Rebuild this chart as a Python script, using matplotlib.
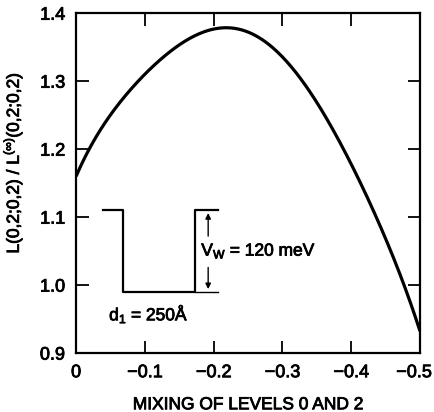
import matplotlib
matplotlib.use("Agg")
import matplotlib.pyplot as plt
import matplotlib.patheffects as pe
from matplotlib.transforms import ScaledTranslation
import numpy as np

plt.rcParams['font.family'] = ['Liberation Sans', 'DejaVu Sans']

# curve
mixing = [0.0, -0.020, -0.049, -0.078, -0.107, -0.136, -0.163, -0.19, -0.214,
          -0.25, -0.277, -0.325, -0.373, -0.397, -0.426, -0.451, -0.48, -0.5]
ratio = [1.158, 1.206, 1.248, 1.285, 1.316, 1.343, 1.364, 1.374, 1.378,
         1.372, 1.358, 1.302, 1.231, 1.184, 1.125, 1.066, 0.988, 0.934]

# square well sketch (in data units)
well_x = [-0.039, -0.068, -0.068, -0.173, -0.173, -0.206]
well_y = [1.11, 1.11, 0.99, 0.99, 1.11, 1.11]

xticks = [0, -0.1, -0.2, -0.3, -0.4, -0.5]
xticklabels = ['0', '\u22120.1', '\u22120.2', '\u22120.3', '\u22120.4', '\u22120.5']
yticks = [0.9, 1.0, 1.1, 1.2, 1.3, 1.4]

heavy = [pe.withStroke(linewidth=0.6, foreground='black')]

fig = plt.figure(figsize=(4.35, 4.12), dpi=100)
ax = fig.add_axes([0.175, 0.143, 0.7905, 0.825])

# smooth the read points with a polynomial fit through them
xs = np.array(mixing)
ys = np.array(ratio)
xx = np.linspace(0, -0.5, 300)
coef = np.polyfit(xs, ys, 6)
ax.plot(xx, np.polyval(coef, xx), color='black', lw=2.3, solid_capstyle='butt')

ax.plot(well_x, well_y, color='black', lw=1.6)
ax.plot([-0.173, -0.206], [0.99, 0.99], color='black', lw=1.0)

arrow_x = -0.192
ax.annotate('', xy=(arrow_x, 1.11), xytext=(arrow_x, 1.068),
            arrowprops=dict(arrowstyle='-|>', color='black', lw=1.0, mutation_scale=8))
ax.annotate('', xy=(arrow_x, 0.99), xytext=(arrow_x, 1.030),
            arrowprops=dict(arrowstyle='-|>', color='black', lw=1.0, mutation_scale=8))
ax.text(-0.182, 1.05, r'V$_\mathregular{W}$ = 120 meV', fontsize=12.5,
        va='center', ha='left', path_effects=heavy)
ax.text(-0.048, 0.957, r'd$_\mathregular{1}$ = 250$\mathregular{\AA}$', fontsize=12.5,
        va='center', ha='left', path_effects=heavy)

ax.set_xlim(0, -0.5)
ax.set_ylim(0.9, 1.4)
ax.set_xticks(xticks)
ax.set_xticklabels(xticklabels)
ax.set_yticks(yticks)
ax.set_yticklabels(['0.9', '1.0', '1.1', '1.2', '1.3', '1.4'])
ax.tick_params(direction='in', length=9, width=1.3, top=True, right=True,
               labelsize=13, pad=8)
for lab in ax.get_xticklabels() + ax.get_yticklabels():
    lab.set_path_effects(heavy)
# last x label sits against the figure edge, nudge it in
last = ax.get_xticklabels()[-1]
last.set_transform(last.get_transform() + ScaledTranslation(-6 / 100, 0, fig.dpi_scale_trans))
for s in ax.spines.values():
    s.set_linewidth(1.6)

ax.set_xlabel('MIXING OF LEVELS 0 AND 2', fontsize=12.5, path_effects=heavy)
ax.xaxis.set_label_coords(0.5, -0.13)
ax.set_ylabel(r'L(0,2;0,2) / L$^{\mathregular{(\infty)}}$(0,2;0,2)', fontsize=12.5,
              path_effects=heavy)
ax.yaxis.set_label_coords(-0.15, 0.56)

fig.savefig('out.png', dpi=100)
